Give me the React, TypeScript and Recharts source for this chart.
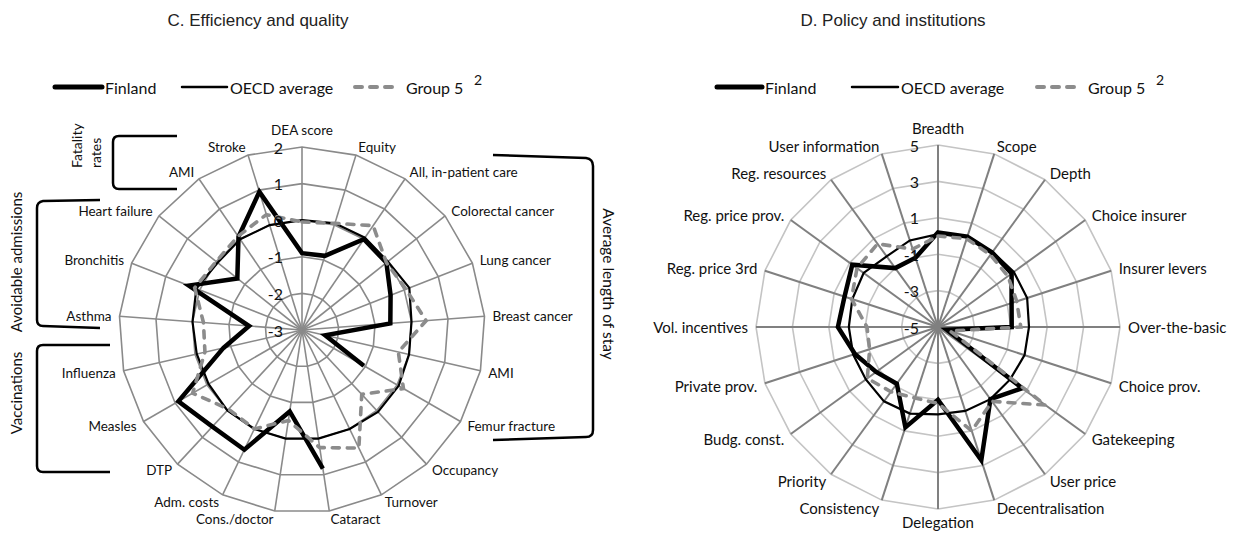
import React from "react";
import { RadarChart, Radar, PolarGrid, PolarAngleAxis, PolarRadiusAxis } from "recharts";

// C. Efficiency and quality
const effAxes = [
  "DEA score", "Equity", "All, in-patient care", "Colorectal cancer", "Lung cancer", "Breast cancer",
  "AMI", "Femur fracture", "Occupancy", "Turnover", "Cataract", "Cons./doctor", "Adm. costs", "DTP",
  "Measles", "Influenza", "Asthma", "Bronchitis", "Heart failure", "AMI", "Stroke",
];
const effFinland = [-0.9, -0.88, 0.0, -0.05, -0.4, -0.58, -2.35, -1.05, null, null, 0.83, -0.75, 0.63, 0.6, 0.9, -0.8, -1.55, 0.32, -0.74, 0.08, 0.95];
const effOecd = [0, 0.05, 0.05, 0, 0.15, 0, 0, 0.05, 0.05, 0, 0, 0, 0, 0, -0.05, -0.05, 0, 0.1, -0.05, 0, 0];
const effGroup5 = [-0.05, 0.05, 0.45, -0.05, 0.05, 0.4, -0.3, 0.2, -0.6, 0.58, 0.25, -0.5, 0, -0.05, 0.45, -0.28, -0.3, 0.15, 0, 0.1, 0.3];
const effTicks = [-3, -2, -1, 0, 1, 2];

// D. Policy and institutions
const polAxes = [
  "Breadth", "Scope", "Depth", "Choice insurer", "Insurer levers", "Over-the-basic", "Choice prov.",
  "Gatekeeping", "User price", "Decentralisation", "Delegation", "Consistency", "Priority", "Budg. const.",
  "Private prov.", "Vol. incentives", "Reg. price 3rd", "Reg. price prov.", "Reg. resources", "User information",
];
const polFinland = [0.2, 0.22, 0.06, 0, -0.75, -0.95, -4.5, 0.72, -0.1, 2.7, -1, 0.8, -1.15, -0.8, -0.2, 0.5, 0.4, 0.82, -1, -1];
const polOecd = [0.1, 0.2, 0.1, 0.15, 0.15, 0, 0, -0.1, -0.1, -0.15, -0.2, 0, 0.05, -0.1, -0.1, -0.1, -0.05, 0.05, -0.2, 0];
const polGroup5 = [0, 0.1, -0.1, -0.25, -0.45, -0.45, -4.3, 2.3, 0.05, 1.0, -0.8, -0.9, -0.6, -0.2, -1.05, -1.1, 0, 0.5, 0.65, -0.5];
const polTicks = [-5, -3, -1, 1, 3, 5];

const series = [
  { key: "finland", name: "Finland", stroke: "#000", width: 4.5, dash: undefined as string | undefined },
  { key: "oecd", name: "OECD average", stroke: "#000", width: 2.2, dash: undefined as string | undefined },
  { key: "group5", name: "Group 5", stroke: "#8c8c8c", width: 3.6, dash: "7 8" },
];

const makeRows = (labels: string[], fin: (number | null)[], oecd: number[], g5: number[]) =>
  labels.map((label, i) => ({ id: String(i), label, finland: fin[i], oecd: oecd[i], group5: g5[i] }));

const effData = makeRows(effAxes, effFinland, effOecd, effGroup5);
const polData = makeRows(polAxes, polFinland, polOecd, polGroup5);

const LABEL_FONT = "Lato, 'Open Sans', sans-serif";

// radar outline that leaves a gap where a value is missing (instead of dropping to the centre)
function GapPolygon(props: any) {
  const { points, dataKey, stroke, strokeWidth, strokeDasharray, strokeLinecap } = props;
  const n = points.length;
  const ok = (p: any) => p && p.payload && p.payload[dataKey] != null && Number.isFinite(p.x) && Number.isFinite(p.y);
  const firstGap = points.findIndex((p: any) => !ok(p));
  let d = "";
  if (firstGap < 0) {
    d = points.map((p: any, i: number) => `${i ? "L" : "M"}${p.x},${p.y}`).join("") + "Z";
  } else {
    let seg: any[] = [];
    const segs: any[][] = [];
    for (let k = 1; k <= n; k++) {
      const p = points[(firstGap + k) % n];
      if (ok(p)) seg.push(p);
      else {
        if (seg.length) segs.push(seg);
        seg = [];
      }
    }
    if (seg.length) segs.push(seg);
    d = segs.map((s) => s.map((p, i) => `${i ? "L" : "M"}${p.x},${p.y}`).join("")).join("");
  }
  return (
    <path d={d} fill="none" stroke={stroke} strokeWidth={strokeWidth} strokeDasharray={strokeDasharray}
      strokeLinecap={strokeLinecap} strokeLinejoin="miter" />
  );
}

function AngleTick(props: any) {
  const { x, y, cx, cy, payload, labels, fontSize, topShift, bottomShift } = props;
  const label = labels[Number(payload.value)];
  const dx = x - cx;
  const anchor = Math.abs(dx) < 2 ? "middle" : dx > 0 ? "start" : "end";
  let ty = y;
  if (anchor === "middle") ty = y < cy ? y - topShift : y + bottomShift;
  return (
    <text x={x} y={ty} textAnchor={anchor} dominantBaseline="central" fontFamily={LABEL_FONT} fontSize={fontSize} fill="#111">
      {label}
    </text>
  );
}

function RadiusTick(props: any) {
  const { x, y, payload } = props;
  return (
    <text x={x - 19} y={y} textAnchor="end" dominantBaseline="central" fontFamily={LABEL_FONT} fontSize={16} fill="#111">
      {payload.value}
    </text>
  );
}

function LegendRow({ x, y, gap }: { x: number[]; y: number; gap: number[] }) {
  // x: start of each legend line, gap: line length
  return (
    <g fontFamily={LABEL_FONT} fontSize={16} fill="#111">
      {series.map((s, i) => (
        <g key={s.key}>
          <line
            x1={x[i]} y1={y} x2={x[i] + gap[i]} y2={y}
            stroke={s.stroke} strokeWidth={s.key === "finland" ? 5 : s.key === "oecd" ? 2.5 : 4}
            strokeDasharray={s.key === "group5" ? "7 8" : undefined} strokeLinecap="round"
          />
          <text x={x[i] + gap[i] + (s.key === "group5" ? 8 : 3)} y={y} dominantBaseline="central">{s.name}</text>
        </g>
      ))}
    </g>
  );
}

function renderRadars() {
  return series.map((s) => (
    <Radar key={s.key} dataKey={s.key} name={s.name} stroke={s.stroke} strokeWidth={s.width}
      strokeDasharray={s.dash} strokeLinecap={s.dash ? "round" : "butt"}
      fill="none" fillOpacity={0} dot={false} isAnimationActive={false}
      shape={(p: any) => <GapPolygon {...p} dataKey={s.key} stroke={s.stroke} strokeWidth={s.width}
        strokeDasharray={s.dash} strokeLinecap={s.dash ? "round" : "butt"} />} />
  ));
}

export default function App() {
  return (
    <div style={{ position: "absolute", left: 0, top: 0, width: 1234, height: 534, background: "#fff" }}>
      <div style={{ position: "absolute", left: 0, top: 0 }}>
        <RadarChart width={620} height={534} data={effData} cx={302} cy={330} outerRadius={183}
          margin={{ top: 0, right: 0, bottom: 0, left: 0 }}>
          <PolarGrid gridType="polygon" stroke="#8a8a8a" strokeWidth={1.6} />
          <PolarAngleAxis dataKey="id" tickLine={false} axisLine={false} tickSize={8}
            tick={(p: any) => <AngleTick {...p} cx={302} cy={330} labels={effAxes} fontSize={13.5} topShift={9} bottomShift={6} />} />
          <PolarRadiusAxis angle={90} domain={[-3, 2]} ticks={effTicks} tickCount={6} axisLine={false}
            tick={(p: any) => <RadiusTick {...p} />} />
          {renderRadars()}
        </RadarChart>
      </div>
      <div style={{ position: "absolute", left: 620, top: 0 }}>
        <RadarChart width={614} height={534} data={polData} cx={318} cy={327} outerRadius={182}
          margin={{ top: 0, right: 0, bottom: 0, left: 0 }}>
          <PolarGrid gridType="polygon" radialLines={false} stroke="#c4c4c4" strokeWidth={1.6} />
          <PolarGrid gridType="polygon" polarRadius={[0]} stroke="#808080" strokeWidth={2} />
          <PolarAngleAxis dataKey="id" tickLine={false} axisLine={false} tickSize={8}
            tick={(p: any) => <AngleTick {...p} cx={318} cy={327} labels={polAxes} fontSize={15} topShift={9} bottomShift={5} />} />
          <PolarRadiusAxis angle={90} domain={[-5, 5]} ticks={polTicks} tickCount={6} axisLine={false}
            tick={(p: any) => <RadiusTick {...p} />} />
          {renderRadars()}
        </RadarChart>
      </div>
      <svg width={1234} height={534} style={{ position: "absolute", left: 0, top: 0, pointerEvents: "none" }}>
        <g fontFamily="'Liberation Sans', Arial, sans-serif" fontSize={17} fill="#222" textAnchor="middle">
          <text x={258} y={20} dominantBaseline="central">C. Efficiency and quality</text>
          <text x={893} y={20} dominantBaseline="central">D. Policy and institutions</text>
        </g>
        <LegendRow x={[55, 182, 355]} y={87} gap={[47, 45, 43]} />
        <text x={474} y={79} fontFamily={LABEL_FONT} fontSize={14} fill="#111" dominantBaseline="central">2</text>
        <LegendRow x={[717, 852, 1037]} y={87} gap={[45, 46, 43]} />
        <text x={1156} y={79} fontFamily={LABEL_FONT} fontSize={14} fill="#111" dominantBaseline="central">2</text>

        {/* group brackets, panel C */}
        <g fill="none" stroke="#000" strokeWidth={2.5}>
          <path d="M177,136 L119,136 Q113,136 113,142 L113,183 Q113,189 119,189 L177,189" />
          <path d="M100,200 L43,201 Q37,202 37,208 L37,320 Q37,326 43,326 L100,328" />
          <path d="M110,345 L43,345 Q37,345 37,351 L37,466 Q37,472 43,472 L110,472" />
          <path d="M493,155 L586,158 Q593,159 593,166 L593,430 Q593,437 586,437 L493,440" />
        </g>
        <g fontFamily={LABEL_FONT} fontSize={15} fill="#111">
          <text transform="translate(82,168) rotate(-90)" textAnchor="start" fontSize={14}>Fatality</text>
          <text transform="translate(101,168) rotate(-90)" textAnchor="start" fontSize={14}>rates</text>
          <text transform="translate(22,262) rotate(-90)" textAnchor="middle">Avoidable admissions</text>
          <text transform="translate(22,393) rotate(-90)" textAnchor="middle">Vaccinations</text>
          <text transform="translate(603,284) rotate(90)" textAnchor="middle" fontSize={15.5}>Average length of stay</text>
        </g>
      </svg>
    </div>
  );
}
